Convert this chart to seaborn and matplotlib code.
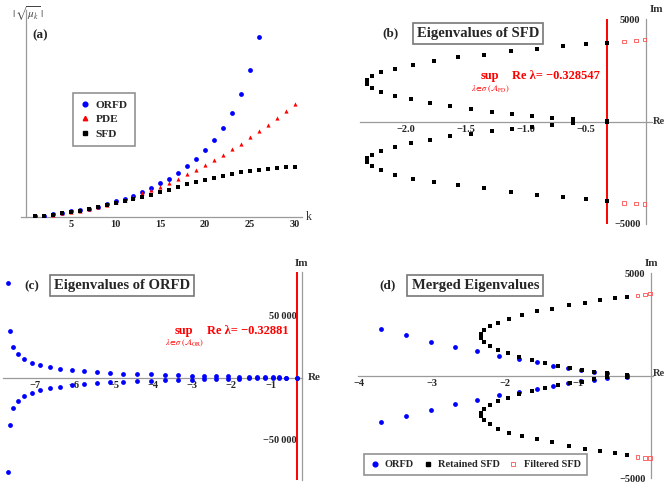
import matplotlib
matplotlib.use('Agg')
import matplotlib.pyplot as plt
import seaborn as sns
from matplotlib.ticker import FixedLocator, MultipleLocator, FuncFormatter, NullLocator
from matplotlib.lines import Line2D

# ---------------- data ----------------
k_vals = list(range(1, 31))
orfd_mu = [2, 3, 7, 12, 16, 19, 24, 30, 39, 46, 54, 63, 74, 86, 100, 114, 132, 153,
           174, 201, 231, 267, 311, 368, 440, 540]
pde_mu = [2, 3, 6, 11, 15, 18, 23, 29, 36, 43, 51, 60, 70, 79, 90, 102, 113, 127,
          140, 154, 170, 186, 202, 219, 238, 256, 276, 297, 317, 339]
sfd_mu = [2, 3, 5, 10, 14, 18, 23, 29, 34, 40, 46, 52, 59, 66, 73, 81, 88, 97,
          103, 109, 116, 123, 128, 133, 137, 141, 144, 147, 149, 150]

sfd_re = [-0.3285, -0.497, -0.694, -0.906, -1.127, -1.352, -1.567, -1.769, -1.943,
          -2.094, -2.207, -2.284, -2.324, -2.324, -2.284, -2.207, -2.094, -1.957,
          -1.803, -1.633, -1.458, -1.280, -1.114, -0.952, -0.787, -0.610, -0.3285]
sfd_im_up = [3865, 3800, 3677, 3563, 3433, 3279, 3140, 2945, 2774, 2586, 2407, 2212,
             2016, 1829, 1633, 1430, 1242, 1088, 917, 770, 632, 485, 387, 282, 200,
             135, 50]
sfd_im_low = [-3869, -3788, -3674, -3560, -3413, -3250, -3104, -2941, -2778, -2582,
              -2370, -2159, -1979, -1800, -1621, -1425, -1246, -1067, -888, -725,
              -611, -464, -367, -285, -171, -73, -41]

filt_re = [-0.183, -0.082, -0.013]
filt_im_up = [3920, 3978, 4018]
filt_im_low = [-3967, -4007, -4015]

orfd_re = [-7.677, -7.634, -7.550, -7.422, -7.270, -7.074, -6.870, -6.616, -6.354,
           -6.064, -5.751, -5.427, -5.089, -4.751, -4.410, -4.053, -3.694, -3.352,
           -3.014, -2.685, -2.379, -2.087, -1.813, -1.562, -1.342, -1.137, -0.954,
           -0.785, -0.603, -0.3288]
orfd_im_up = [75800, 37600, 24800, 18600, 14600, 11900, 10000, 8400, 7300, 6000, 5100,
              4350, 3750, 3300, 2900, 2580, 2272, 1971, 1670, 1418, 1198, 970, 806,
              651, 497, 392, 277, 200, 122, 40]
orfd_im_low = [-75700, -37700, -24600, -18500, -14700, -12000, -10100, -8300, -7200,
               -6100, -5000, -4400, -3700, -3300, -2950, -2560, -2256, -1947, -1653,
               -1393, -1181, -953, -774, -643, -481, -367, -269, -190, -115, -35]

sup_sfd = -0.328547
sup_orfd = -0.32881

# ---------------- style ----------------
sns.set_style('white')
plt.rcParams['font.family'] = ['Liberation Serif', 'DejaVu Serif']
plt.rcParams['mathtext.fontset'] = 'stix'
plt.rcParams['axes.unicode_minus'] = True

W, H = 667, 487
fig = plt.figure(figsize=(6.67, 4.87), dpi=100)
AX_GRAY = '#9a9a9a'


def fx(X):
    return X / W


def fy(Y):
    return 1 - Y / H


def add_axes(X0, X1, Y0, Y1):
    return fig.add_axes([fx(X0), fy(Y1), (X1 - X0) / W, (Y1 - Y0) / H])


def ftext(X, Y, s, **kw):
    kw.setdefault('ha', 'center')
    kw.setdefault('va', 'center')
    fig.text(fx(X), fy(Y), s, **kw)


def mfmt(fmt):
    return FuncFormatter(lambda v, p: fmt.format(v).replace('-', '\u2212'))


def style_axes(ax, xspine_pos, yspine_pos):
    ax.set_facecolor('none')
    for s in ['top', 'right']:
        ax.spines[s].set_visible(False)
    ax.spines['bottom'].set_position(xspine_pos)
    ax.spines['left'].set_position(yspine_pos)
    for s in ['bottom', 'left']:
        ax.spines[s].set_color(AX_GRAY)
        ax.spines[s].set_linewidth(0.9)
    ax.tick_params(axis='x', which='major', direction='in', length=3, width=0.7,
                   color=AX_GRAY, pad=2.5, labelsize=7.5)
    ax.tick_params(axis='x', which='minor', direction='in', length=1.6, width=0.5,
                   color=AX_GRAY)
    ax.tick_params(axis='y', which='major', direction='out', length=3, width=0.7,
                   color=AX_GRAY, pad=1, labelsize=7.5)
    ax.set_xlabel('')
    ax.set_ylabel('')


def bold_ticks(ax):
    for lab in ax.get_xticklabels() + ax.get_yticklabels():
        lab.set_fontweight('bold')


# ---------------- panel (a) ----------------
axa = add_axes(20.7, 301.7, 10, 216.7)
sns.scatterplot(x=k_vals[:len(orfd_mu)], y=orfd_mu, ax=axa, color='blue', marker='o',
                s=12, linewidth=0, zorder=3)
sns.scatterplot(x=k_vals, y=pde_mu, ax=axa, color='red', marker='^', s=9,
                linewidth=0, zorder=4)
sns.scatterplot(x=k_vals, y=sfd_mu, ax=axa, color='black', marker='s', s=8,
                linewidth=0, zorder=5)
axa.set_xlim(-0.6, 30.8)
axa.set_ylim(0, 620)
style_axes(axa, ('data', 0), ('data', 0))
axa.xaxis.set_major_locator(FixedLocator([5, 10, 15, 20, 25, 30]))
axa.xaxis.set_minor_locator(MultipleLocator(1))
axa.xaxis.set_major_formatter(mfmt('{:.0f}'))
axa.yaxis.set_major_locator(NullLocator())
bold_ticks(axa)

h_a = [Line2D([], [], ls='', marker='o', color='blue', markersize=3.4),
       Line2D([], [], ls='', marker='^', color='red', markersize=3.2),
       Line2D([], [], ls='', marker='s', color='black', markersize=2.9)]
leg = axa.legend(h_a, ['ORFD', 'PDE', 'SFD'], loc='upper left',
                 bbox_to_anchor=(0.186, 0.598), frameon=True, fancybox=False,
                 prop={'family': 'Liberation Serif', 'weight': 'bold', 'size': 8.2},
                 handletextpad=0.5, handlelength=0.9, borderpad=0.6,
                 labelspacing=0.4, borderaxespad=0)
leg.get_frame().set_edgecolor('#777777')
leg.get_frame().set_linewidth(1.2)

ftext(40, 35, '(a)', fontsize=9.5, fontweight='bold')
ftext(306, 217, 'k', fontsize=8.5, ha='left', color='#333333')
ftext(28, 14, r'$|\,\sqrt{\mu_k}\;|$', fontsize=8, color='#444444')

# ---------------- panel (b) ----------------
axb = add_axes(360, 652, 19.3, 224)
sns.scatterplot(x=sfd_re + sfd_re, y=sfd_im_up + sfd_im_low, ax=axb, color='black',
                marker='s', s=9, linewidth=0, zorder=4)
sns.scatterplot(x=filt_re + filt_re, y=filt_im_up + filt_im_low, ax=axb,
                marker='s', s=6, facecolor='none', edgecolor='#ff5050',
                linewidth=0.6, zorder=4)
axb.axvline(sup_sfd, color='red', lw=1.4, zorder=3)
axb.set_xlim(-2.383, 0.05)
axb.set_ylim(-5000, 5000)
style_axes(axb, ('data', 0), ('data', 0))
axb.xaxis.set_major_locator(FixedLocator([-2.0, -1.5, -1.0, -0.5]))
axb.xaxis.set_minor_locator(MultipleLocator(0.1))
axb.xaxis.set_major_formatter(mfmt('{:.1f}'))
axb.yaxis.set_major_locator(FixedLocator([-5000, 5000]))
axb.yaxis.set_major_formatter(mfmt('{:.0f}'))
bold_ticks(axb)

ftext(478, 33.3, 'Eigenvalues of SFD', fontsize=10.5, fontweight='bold',
      bbox=dict(boxstyle='square,pad=0.28', fc='white', ec='#777777', lw=1.2))
ftext(391, 33, '(b)', fontsize=9.5, fontweight='bold')
ftext(490, 76, 'sup', fontsize=9, fontweight='bold', color='red')
ftext(512, 76, 'Re \u03bb= \u22120.328547', fontsize=9, fontweight='bold',
      color='red', ha='left')
ftext(490, 89, r'$\lambda\!\in\!\sigma\ (\mathcal{A}_{\rm FD})$', fontsize=6,
      color='red')
ftext(656, 10, 'Im', fontsize=8, fontweight='bold', color='#333333')
ftext(665, 121, 'Re', fontsize=7.5, fontweight='bold', color='#333333', ha='right')

# ---------------- panel (c) ----------------
axc = add_axes(3, 302.3, 271.7, 480)
sns.scatterplot(x=orfd_re + orfd_re, y=orfd_im_up + orfd_im_low, ax=axc,
                color='blue', marker='o', s=12, linewidth=0, zorder=4)
axc.axvline(sup_orfd, color='red', lw=1.4, zorder=3)
axc.set_xlim(-7.81, -0.196)
axc.set_ylim(-82100, 85000)
style_axes(axc, ('data', 0), ('axes', 1.0))
axc.xaxis.set_major_locator(FixedLocator([-7, -6, -5, -4, -3, -2, -1]))
axc.xaxis.set_minor_locator(MultipleLocator(0.2))
axc.xaxis.set_major_formatter(mfmt('{:.0f}'))
axc.yaxis.set_major_locator(FixedLocator([-50000, 50000]))
axc.yaxis.set_major_formatter(
    FuncFormatter(lambda v, p: ('\u2212' if v < 0 else '') + '50\u2009000'))
bold_ticks(axc)

ftext(121.7, 285.8, 'Eigenvalues of ORFD', fontsize=10.5, fontweight='bold',
      bbox=dict(boxstyle='square,pad=0.28', fc='white', ec='#777777', lw=1.2))
ftext(32, 286.7, '(c)', fontsize=9.5, fontweight='bold')
ftext(184, 331, 'sup', fontsize=9, fontweight='bold', color='red')
ftext(206.7, 331, 'Re \u03bb= \u22120.32881', fontsize=9, fontweight='bold',
      color='red', ha='left')
ftext(185, 343.3, r'$\lambda\!\in\!\sigma\ (\mathcal{A}_{\rm OR})$', fontsize=6,
      color='red')
ftext(301.7, 264, 'Im', fontsize=8, fontweight='bold', color='#333333')
ftext(308, 378, 'Re', fontsize=8, fontweight='bold', color='#333333', ha='left')

# ---------------- panel (d) ----------------
axd = add_axes(358, 652.5, 273.3, 478.3)
sns.scatterplot(x=orfd_re + orfd_re, y=orfd_im_up + orfd_im_low, ax=axd,
                color='blue', marker='o', s=12, linewidth=0, zorder=3)
sns.scatterplot(x=sfd_re + sfd_re, y=sfd_im_up + sfd_im_low, ax=axd, color='black',
                marker='s', s=9, linewidth=0, zorder=4)
sns.scatterplot(x=filt_re + filt_re, y=filt_im_up + filt_im_low, ax=axd,
                marker='s', s=6, facecolor='none', edgecolor='#ff5050',
                linewidth=0.6, zorder=4)
axd.set_xlim(-4.014, 0.02)
axd.set_ylim(-5000, 5000)
style_axes(axd, ('data', 0), ('data', 0))
axd.xaxis.set_major_locator(FixedLocator([-4, -3, -2, -1]))
axd.xaxis.set_minor_locator(MultipleLocator(0.2))
axd.xaxis.set_major_formatter(mfmt('{:.0f}'))
axd.yaxis.set_major_locator(FixedLocator([-5000, 5000]))
axd.yaxis.set_major_formatter(mfmt('{:.0f}'))
bold_ticks(axd)

h_d = [Line2D([], [], ls='', marker='o', color='blue', markersize=3.4),
       Line2D([], [], ls='', marker='s', color='black', markersize=2.9),
       Line2D([], [], ls='', marker='s', markerfacecolor='none',
              markeredgecolor='#ff5050', markeredgewidth=0.6, markersize=2.9)]
legd = axd.legend(h_d, ['ORFD', 'Retained SFD', 'Filtered SFD'], loc='lower left',
                  bbox_to_anchor=(0.019, 0.016), ncol=3, frameon=True,
                  fancybox=False,
                  prop={'family': 'Liberation Serif', 'weight': 'bold', 'size': 7.5},
                  handletextpad=0.5, handlelength=1.0, columnspacing=0.8,
                  borderpad=0.55, borderaxespad=0)
legd.get_frame().set_edgecolor('#777777')
legd.get_frame().set_linewidth(1.2)

ftext(475.3, 285.3, 'Merged Eigenvalues', fontsize=10.5, fontweight='bold',
      bbox=dict(boxstyle='square,pad=0.28', fc='white', ec='#777777', lw=1.2))
ftext(387.3, 285.7, '(d)', fontsize=9.5, fontweight='bold')
ftext(651, 263.3, 'Im', fontsize=8, fontweight='bold', color='#333333')
ftext(665, 374, 'Re', fontsize=7.5, fontweight='bold', color='#333333', ha='right')

fig.savefig('out.png', dpi=100)
